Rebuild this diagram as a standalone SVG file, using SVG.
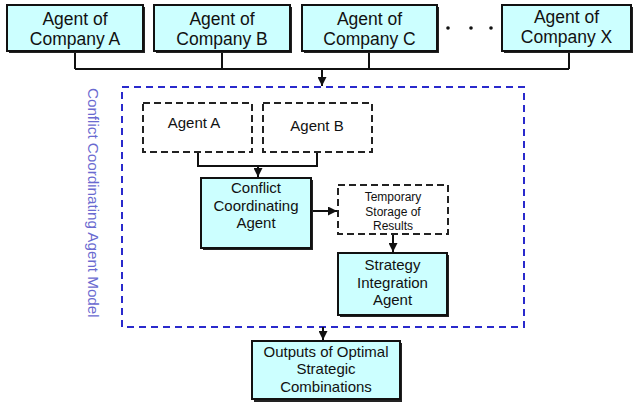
<svg xmlns="http://www.w3.org/2000/svg" width="633" height="404" viewBox="0 0 633 404">
  <style>
    .box { fill: #ccffff; stroke: #111; stroke-width: 2; }
    .shadow { fill: #222; }
    .dbox { fill: #fff; stroke: #222; stroke-width: 2; stroke-dasharray: 7 4; }
    .frame { fill: none; stroke: #2a2acc; stroke-width: 2; stroke-dasharray: 7 5; }
    .wire { fill: none; stroke: #111; stroke-width: 2; }
    .t { font-family: "Liberation Sans", Arial, sans-serif; fill: #111; text-anchor: middle; }
    .big { font-size: 17.5px; }
    .mid { font-size: 15px; }
    .small { font-size: 12px; }
    .side { font-family: "Liberation Sans", Arial, sans-serif; font-size: 15.2px; fill: #6a6ad0; }
  </style>
  <defs>
    <marker id="arrow" viewBox="0 0 10 10" refX="10" refY="5" markerWidth="4.5" markerHeight="4.5" orient="auto" markerUnits="strokeWidth">
      <path d="M0,0 L10,5 L0,10 z" fill="#111"/>
    </marker>
  </defs>
  <rect width="633" height="404" fill="#fff"/>

  <!-- model frame and its label -->
  <g id="model-frame">
    <rect class="frame" x="122" y="87" width="402" height="240"/>
    <text class="side" transform="translate(88,88) rotate(90)">Conflict Coordinating Agent Model</text>
  </g>

  <!-- connectors -->
  <g id="connectors">
    <path class="wire" d="M75,51 V69 M222,51 V69 M369,51 V69 M569,51 V69 M75,69 H569"/>
    <path class="wire" d="M322,69 V86" marker-end="url(#arrow)"/>
    <path class="wire" d="M198,152 V166 H317 V152"/>
    <path class="wire" d="M258,166 V177" marker-end="url(#arrow)"/>
    <path class="wire" d="M311,211 H337" marker-end="url(#arrow)"/>
    <path class="wire" d="M393,234 V252" marker-end="url(#arrow)"/>
    <path class="wire" d="M323,327 V340" marker-end="url(#arrow)"/>
  </g>

  <!-- company agents -->
  <g id="agent-company-a">
    <rect class="shadow" x="9" y="7" width="136" height="46"/>
    <rect class="box" x="7" y="5" width="136" height="46"/>
    <text class="t big" x="75" y="25">Agent of</text>
    <text class="t big" x="75" y="45">Company A</text>
  </g>
  <g id="agent-company-b">
    <rect class="shadow" x="156" y="7" width="136" height="46"/>
    <rect class="box" x="154" y="5" width="136" height="46"/>
    <text class="t big" x="222" y="25">Agent of</text>
    <text class="t big" x="222" y="45">Company B</text>
  </g>
  <g id="agent-company-c">
    <rect class="shadow" x="304" y="7" width="135" height="46"/>
    <rect class="box" x="302" y="5" width="135" height="46"/>
    <text class="t big" x="369.5" y="25">Agent of</text>
    <text class="t big" x="369.5" y="45">Company C</text>
  </g>
  <g id="ellipsis">
    <circle cx="448" cy="28" r="1.8" fill="#111"/>
    <circle cx="471" cy="28" r="1.8" fill="#111"/>
    <circle cx="491" cy="28" r="1.8" fill="#111"/>
  </g>
  <g id="agent-company-x">
    <rect class="shadow" x="504" y="7" width="129" height="46"/>
    <rect class="box" x="502" y="5" width="129" height="46"/>
    <text class="t big" x="566.5" y="23">Agent of</text>
    <text class="t big" x="566.5" y="43">Company X</text>
  </g>

  <!-- inner agents -->
  <g id="agent-a">
    <rect class="dbox" x="143" y="103" width="109" height="49"/>
    <text class="t mid" x="194" y="128">Agent A</text>
  </g>
  <g id="agent-b">
    <rect class="dbox" x="263" y="103" width="109" height="49"/>
    <text class="t mid" x="317" y="131">Agent B</text>
  </g>
  <g id="conflict-coordinating-agent">
    <rect class="shadow" x="203" y="180" width="110" height="70"/>
    <rect class="box" x="201" y="178" width="110" height="70"/>
    <text class="t mid" x="256" y="193">Conflict</text>
    <text class="t mid" x="256" y="211">Coordinating</text>
    <text class="t mid" x="256" y="228">Agent</text>
  </g>
  <g id="temporary-storage">
    <rect class="dbox" x="338" y="185" width="110" height="49"/>
    <text class="t small" x="393" y="201">Temporary</text>
    <text class="t small" x="393" y="216">Storage of</text>
    <text class="t small" x="393" y="230">Results</text>
  </g>
  <g id="strategy-integration-agent">
    <rect class="shadow" x="340" y="255" width="109" height="62"/>
    <rect class="box" x="338" y="253" width="109" height="62"/>
    <text class="t mid" x="392.5" y="270">Strategy</text>
    <text class="t mid" x="392.5" y="288">Integration</text>
    <text class="t mid" x="392.5" y="305">Agent</text>
  </g>

  <!-- result -->
  <g id="outputs">
    <rect class="shadow" x="254" y="343" width="148" height="59"/>
    <rect class="box" x="252" y="341" width="148" height="58"/>
    <text class="t mid" x="326" y="357">Outputs of Optimal</text>
    <text class="t mid" x="326" y="374">Strategic</text>
    <text class="t mid" x="326" y="392">Combinations</text>
  </g>
</svg>
